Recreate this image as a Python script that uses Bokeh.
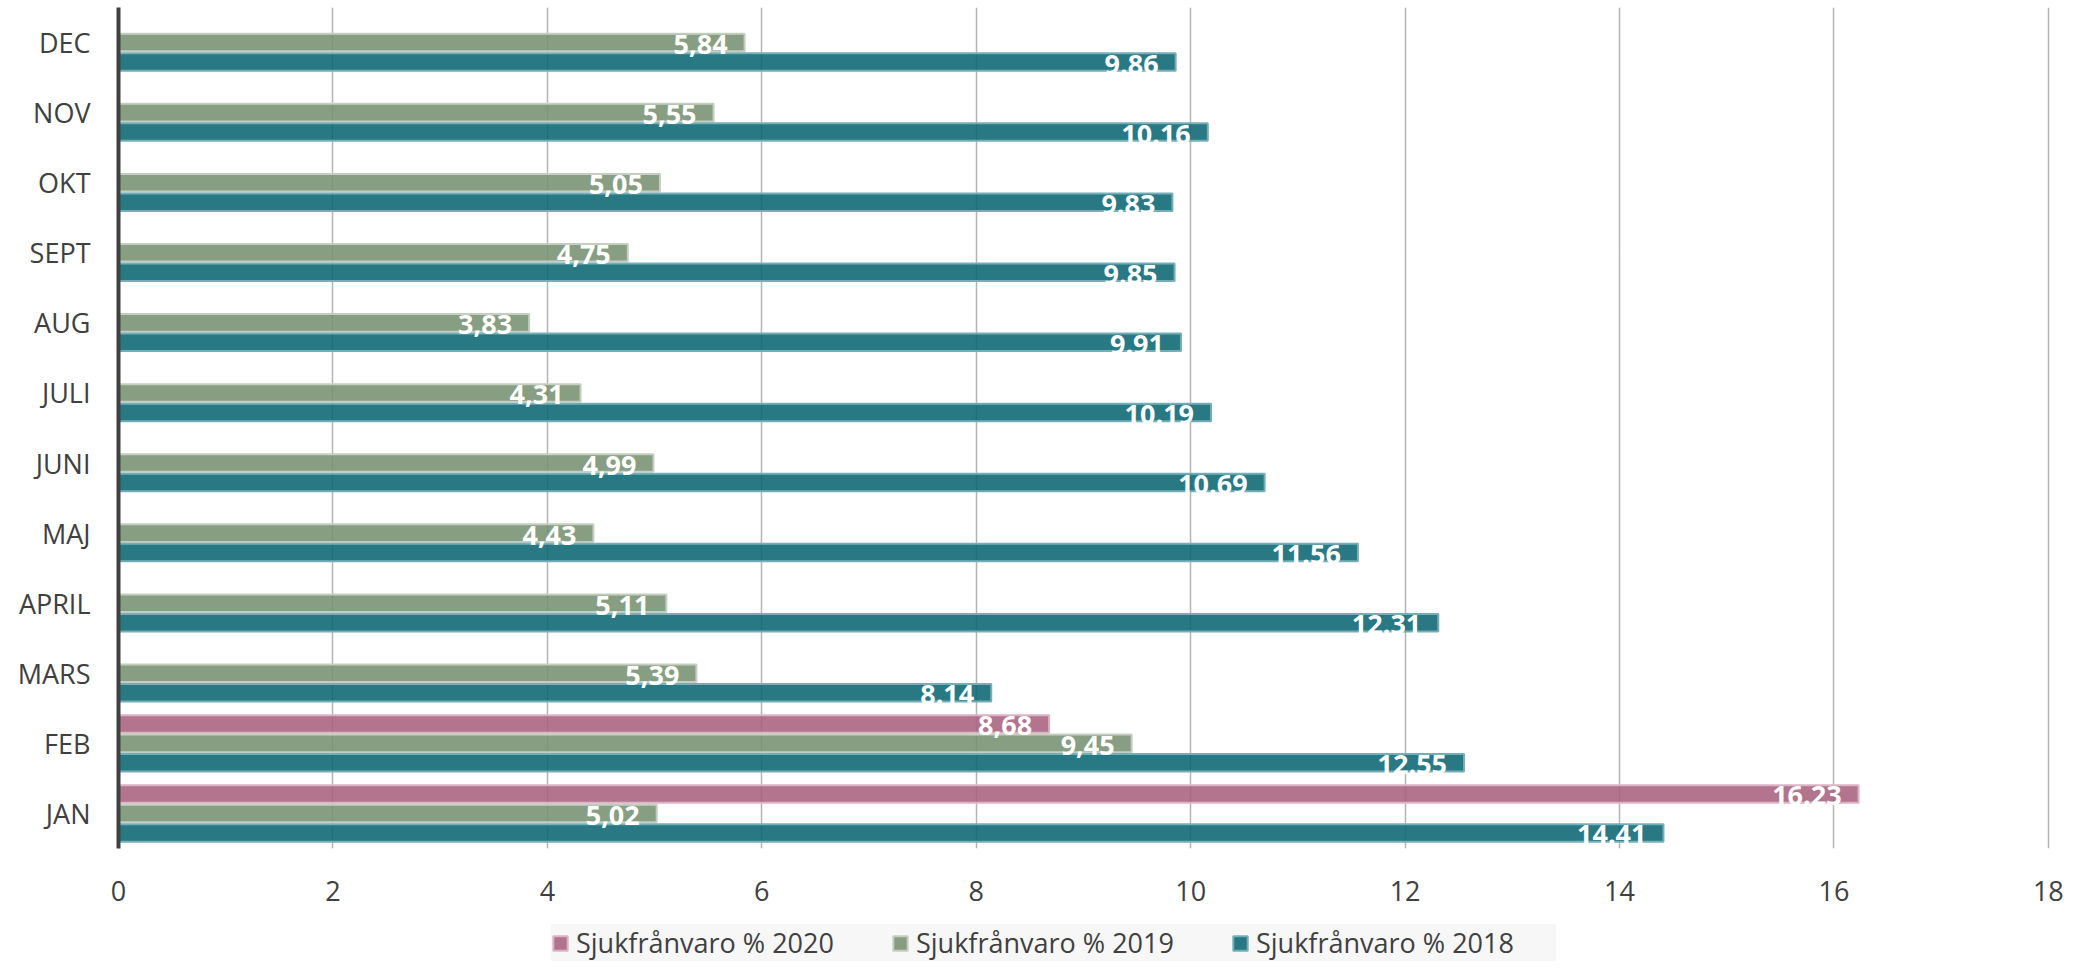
from bokeh.plotting import figure
from bokeh.layouts import column
from bokeh.models import (FactorRange, Range1d, FixedTicker, Legend, LegendItem,
                          ColumnDataSource)
from bokeh.transform import dodge
from bokeh.core.properties import value
from bokeh.embed import file_html
from bokeh.resources import INLINE

# ---- data ----
months = ["JAN", "FEB", "MARS", "APRIL", "MAJ", "JUNI", "JULI", "AUG", "SEPT", "OKT", "NOV", "DEC"]
v2018 = [14.41, 12.55, 8.14, 12.31, 11.56, 10.69, 10.19, 9.91, 9.85, 9.83, 10.16, 9.86]
v2019 = [5.02, 9.45, 5.39, 5.11, 4.43, 4.99, 4.31, 3.83, 4.75, 5.05, 5.55, 5.84]
v2020 = [16.23, 8.68, None, None, None, None, None, None, None, None, None, None]
lab2018 = ["14.41", "12.55", "8.14", "12.31", "11.56", "10.69", "10.19", "9.91", "9.85", "9.83", "10.16", "9.86"]
lab2019 = ["5,02", "9,45", "5,39", "5,11", "4,43", "4,99", "4,31", "3,83", "4,75", "5,05", "5,55", "5,84"]
lab2020 = ["16.23", "8,68", None, None, None, None, None, None, None, None, None, None]
x_ticks = [0, 2, 4, 6, 8, 10, 12, 14, 16, 18]
series = ["Sjukfrånvaro % 2020", "Sjukfrånvaro % 2019", "Sjukfrånvaro % 2018"]

FONT = value("Open Sans")
TXT = "#404040"

p = figure(width=2080, height=920, y_range=FactorRange(factors=months),
           x_range=Range1d(0, 18.02), output_backend="svg", toolbar_location=None,
           min_border_left=118, min_border_right=30, min_border_top=7, min_border_bottom=72)
p.outline_line_color = None
p.background_fill_color = "white"

def make_src(vals, labs):
    m = [mo for mo, v in zip(months, vals) if v is not None]
    vv = [v for v in vals if v is not None]
    ll = [l for v, l in zip(vals, labs) if v is not None]
    return ColumnDataSource(dict(month=m, val=vv, lab=ll))

src20 = make_src(v2020, lab2020)
src19 = make_src(v2019, lab2019)
src18 = make_src(v2018, lab2018)

OFF = 0.278
H = 0.25
specs = [(src20, OFF, "#a9617e", "#dcb3c4"),
         (src19, 0.0, "#779171", "#c5cfc1"),
         (src18, -OFF, "#0a6673", "#74aeb7")]
for src, off, fc, lc in specs:
    p.hbar(y=dodge("month", off, range=p.y_range), left=0, right="val", height=H,
           source=src, fill_color=fc, fill_alpha=0.88, line_color=lc, line_width=2)
for src, off, fc, lc in specs:
    p.text(x="val", y=dodge("month", off, range=p.y_range), text="lab", source=src,
           text_align="right", text_baseline="middle", x_offset=-17, y_offset=2,
           text_color="white", text_font=FONT, text_font_size="27px", text_font_style="bold")

# grid / axes
p.xaxis.ticker = FixedTicker(ticks=x_ticks)
p.xgrid.ticker = FixedTicker(ticks=x_ticks)
p.xgrid.grid_line_color = "#b4b4b4"
p.xgrid.grid_line_width = 1.5
p.ygrid.visible = False

p.xaxis.axis_line_color = None
p.xaxis.major_tick_line_color = None
p.xaxis.minor_tick_line_color = None
p.xaxis.major_label_standoff = 26
p.xaxis.major_label_text_font = "Open Sans"
p.xaxis.major_label_text_font_size = "27px"
p.xaxis.major_label_text_color = TXT

p.yaxis.axis_line_color = TXT
p.yaxis.axis_line_width = 4
p.yaxis.major_tick_line_color = None
p.yaxis.minor_tick_line_color = None
p.yaxis.major_label_standoff = 22
p.yaxis.major_label_text_font = "Open Sans"
p.yaxis.major_label_text_font_size = "27px"
p.yaxis.major_label_text_color = TXT

# ---- legend strip: own small figure with hidden legend proxies ----
q = figure(width=2080, height=50, x_range=Range1d(0, 1), y_range=Range1d(0, 1),
           x_axis_type=None, y_axis_type=None, output_backend="svg", toolbar_location=None,
           min_border_left=118, min_border_right=30, min_border_top=0, min_border_bottom=0)
q.outline_line_color = None
proxies = []
for src, off, fc, lc in specs:
    proxies.append(q.hbar(y=[-5], left=[0], right=[1], height=0.5, fill_color=fc, fill_alpha=0.88,
                          line_color=lc, line_width=2, visible=False))

legend = Legend(items=[LegendItem(label=s, renderers=[r]) for s, r in zip(series, proxies)],
                orientation="horizontal", location=(433, 9),
                glyph_width=18, glyph_height=18, label_standoff=7, spacing=15,
                label_width=300, label_height=20, padding=28, margin=0,
                background_fill_color="#f7f7f7", background_fill_alpha=1,
                inactive_fill_alpha=0,
                border_line_color=None, label_text_font="Open Sans",
                label_text_font_size="27px", label_text_color=TXT)
q.add_layout(legend, "center")

layout = column(p, q, spacing=0)
open("out.html", "w").write(file_html(layout, INLINE))
